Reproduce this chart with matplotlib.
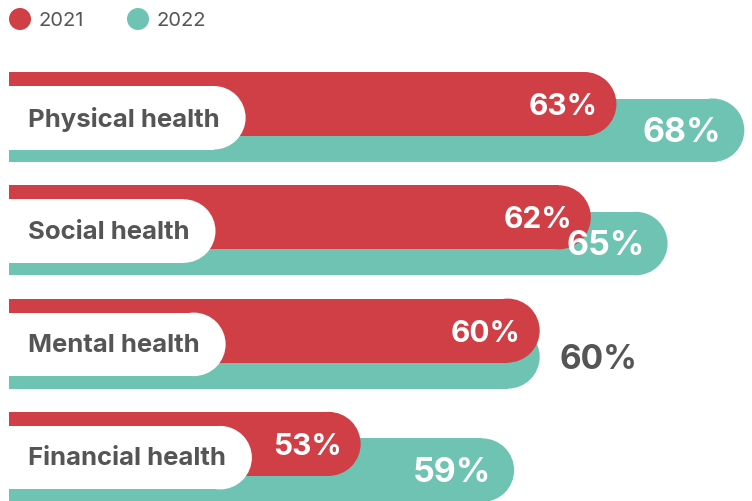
import matplotlib
matplotlib.use('Agg')
import matplotlib.pyplot as plt
from matplotlib.patches import Rectangle, Ellipse, Circle

categories = ['Physical health', 'Social health', 'Mental health', 'Financial health']
values_2021 = [63, 62, 60, 53]
values_2022 = [68, 65, 60, 59]
years = ['2021', '2022']

RED = '#D03E46'
TEAL = '#6FC3B2'
GREY = '#555555'
colors = [RED, TEAL]

plt.rcParams['font.family'] = ['Inter', 'DejaVu Sans']

W, H = 752, 502
fig = plt.figure(figsize=(W / 100, H / 100), dpi=100)
ax = fig.add_axes([0, 0, 1, 1])
# x axis in percent (bars don't start at zero), y axis in pixels
xmin, xmax = 38.9, 68.3
ax.set_xlim(xmin, xmax)
ax.set_ylim(H, 0)
ax.axis('off')
upx = (xmax - xmin) / W  # percent per pixel
x_left = xmin + 9 * upx


def round_bar(x_end, y_top, h, color, z):
    r = h / 2
    ax.add_patch(Rectangle((x_left, y_top), x_end - r * upx - x_left, h,
                           fc=color, ec='none', zorder=z))
    ax.add_patch(Ellipse((x_end - r * upx, y_top + r), 2 * r * upx, h,
                         fc=color, ec='none', zorder=z))


# legend
lx = [20, 138]
for i, yr in enumerate(years):
    ax.add_patch(Ellipse((xmin + lx[i] * upx, 20), 22 * upx, 22, fc=colors[i], ec='none'))
    ax.text(xmin + (lx[i] + 19) * upx, 21, yr, fontsize=14.5, color=GREY,
            ha='left', va='center')

fig.canvas.draw()
renderer = fig.canvas.get_renderer()

step = 113.3
for i, cat in enumerate(categories):
    top = 73 + i * step
    v1, v2 = values_2021[i], values_2022[i]
    round_bar(v2, top + 26.5, 63.5, TEAL, 1)
    round_bar(v1, top, 64, RED, 2)

    t = ax.text(xmin + 28 * upx, top + 46, cat, fontsize=18.5, fontweight='bold',
                color=GREY, ha='left', va='center', zorder=5)
    bb = t.get_window_extent(renderer)
    pill_end = xmin + (bb.x1 + 26) * upx
    round_bar(pill_end, top + 14, 63.5, 'white', 3)

    ax.text(v1 - 19 * upx, top + 34, f'{v1}%', fontsize=21.5, fontweight='bold',
            color='white', ha='right', va='center', zorder=5)
    if v2 > v1:
        ax.text(v2 - 23 * upx, top + 60, f'{v2}%', fontsize=24.5, fontweight='bold',
                color='white', ha='right', va='center', zorder=5)
    else:
        ax.text(v2 + 20 * upx, top + 60, f'{v2}%', fontsize=24, fontweight='bold',
                color=GREY, ha='left', va='center', zorder=5)

fig.savefig('out.png', dpi=100)
